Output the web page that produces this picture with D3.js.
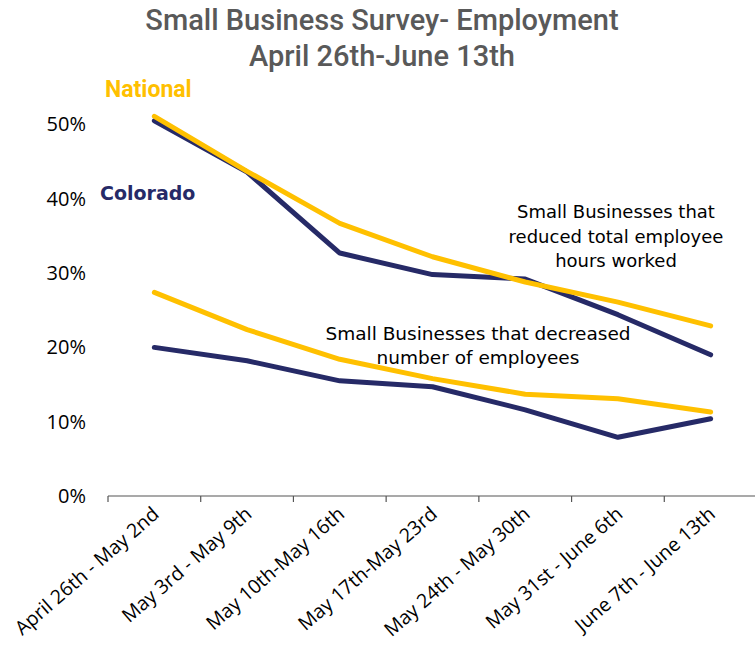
<!DOCTYPE html>
<html>
<head>
<meta charset="utf-8">
<script src="https://cdn.jsdelivr.net/npm/d3@7"></script>
<style>
  body { margin: 0; background: #fff; }
  svg { display: block; }
</style>
</head>
<body>
<div id="chart"></div>
<script>
// weeks of the survey
const weeks = ["April 26th - May 2nd", "May 3rd - May 9th", "May 10th-May 16th", "May 17th-May 23rd",
  "May 24th - May 30th", "May 31st - June 6th", "June 7th - June 13th"];

// reduced total employee hours worked
const hoursNational = [0.511, 0.437, 0.367, 0.322, 0.288, 0.261, 0.229];
const hoursColorado = [0.505, 0.436, 0.327, 0.298, 0.292, 0.244, 0.190];

// decreased number of employees
const employeesNational = [0.274, 0.224, 0.184, 0.158, 0.137, 0.131, 0.113];
const employeesColorado = [0.200, 0.182, 0.155, 0.147, 0.116, 0.079, 0.104];

const yTicks = [0, 0.1, 0.2, 0.3, 0.4, 0.5];

const yellow = "#FFC000";
const navy = "#262A67";

const width = 755, height = 655;

const svg = d3.select("#chart").append("svg")
    .attr("width", width)
    .attr("height", height);

const x = d3.scaleBand()
    .domain(weeks)
    .range([108, 757]);

const y = d3.scaleLinear()
    .domain([0, 0.5])
    .range([496, 124.5]);

// title
const titleFont = "Roboto, 'DejaVu Sans Condensed', sans-serif";
const title = ["Small Business Survey- Employment", "April 26th-June 13th"];
svg.append("text")
    .attr("text-anchor", "middle")
    .style("font-family", titleFont)
    .style("font-weight", "500")
    .style("font-size", "29px")
    .style("fill", "#595959")
    .selectAll("tspan")
    .data(title)
    .join("tspan")
    .attr("x", 382)
    .attr("y", (d, i) => 30 + i * 36)
    .text(d => d);

const labelFont = "'Open Sans', sans-serif";

// y axis labels only
const yAxis = svg.append("g")
    .attr("transform", "translate(92,0)")
    .call(d3.axisLeft(y).tickValues(yTicks).tickFormat(d3.format(".0%")).tickSize(0).tickPadding(6));
yAxis.select(".domain").remove();
yAxis.selectAll("text")
    .style("font-family", labelFont)
    .style("font-size", "20px")
    .style("fill", "#000");

// x axis line and ticks at band edges
const xAxis = svg.append("g");
xAxis.append("line")
    .attr("x1", x.range()[0]).attr("x2", width)
    .attr("y1", y(0)).attr("y2", y(0))
    .attr("stroke", "#555").attr("stroke-width", 1.2);
xAxis.selectAll(".tick")
    .data(weeks)
    .join("line")
    .attr("class", "tick")
    .attr("x1", d => x(d)).attr("x2", d => x(d))
    .attr("y1", y(0)).attr("y2", y(0) + 6)
    .attr("stroke", "#555").attr("stroke-width", 1.2);
xAxis.selectAll(".lbl")
    .data(weeks)
    .join("text")
    .attr("class", "lbl")
    .attr("text-anchor", "end")
    .attr("transform", d => `translate(${x(d) + x.bandwidth() / 2 + 6},${y(0) + 20}) rotate(-41)`)
    .style("font-family", labelFont)
    .style("font-size", "19.5px")
    .style("fill", "#000")
    .text(d => d);

// lines
const line = d3.line()
    .x((d, i) => x(weeks[i]) + x.bandwidth() / 2)
    .y(d => y(d));

const series = [
  { values: employeesColorado, color: navy },
  { values: employeesNational, color: yellow },
  { values: hoursColorado, color: navy },
  { values: hoursNational, color: yellow }
];

svg.selectAll(".series")
    .data(series)
    .join("path")
    .attr("class", "series")
    .attr("d", d => line(d.values))
    .attr("fill", "none")
    .attr("stroke", d => d.color)
    .attr("stroke-width", 5)
    .attr("stroke-linejoin", "round")
    .attr("stroke-linecap", "round");

// legend-ish labels
svg.append("text")
    .attr("x", 105).attr("y", 97)
    .style("font-family", titleFont)
    .style("font-weight", "bold")
    .style("font-size", "23px")
    .style("fill", yellow)
    .text("National");
svg.append("text")
    .attr("x", 100).attr("y", 200)
    .style("font-family", "'DejaVu Sans', sans-serif")
    .style("font-weight", "bold")
    .style("font-size", "19px")
    .style("fill", navy)
    .text("Colorado");

// annotations
const noteFont = "'DejaVu Sans', sans-serif";
const note1 = ["Small Businesses that", "reduced total employee", "hours worked"];
svg.append("text")
    .attr("text-anchor", "middle")
    .style("font-family", noteFont)
    .style("font-size", "18px")
    .style("fill", "#000")
    .selectAll("tspan")
    .data(note1)
    .join("tspan")
    .attr("x", 616)
    .attr("y", (d, i) => 218 + i * 24.5)
    .text(d => d);

const note2 = ["Small Businesses that decreased", "number of employees"];
svg.append("text")
    .attr("text-anchor", "middle")
    .style("font-family", noteFont)
    .style("font-size", "18.5px")
    .style("fill", "#000")
    .selectAll("tspan")
    .data(note2)
    .join("tspan")
    .attr("x", 478)
    .attr("y", (d, i) => 340 + i * 24)
    .text(d => d);
</script>
</body>
</html>
